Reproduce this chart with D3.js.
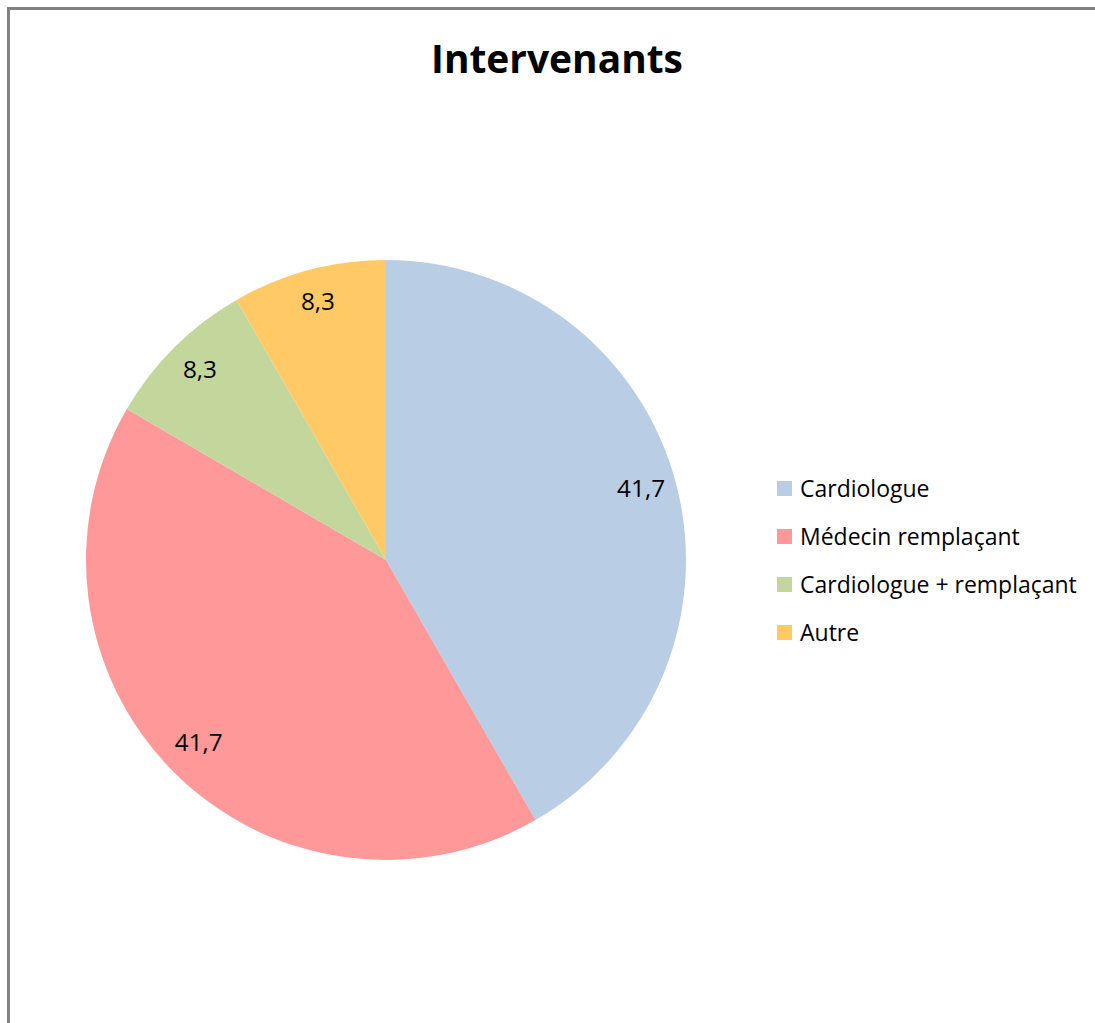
<!DOCTYPE html>
<html><head><meta charset="utf-8">
<script src="https://cdn.jsdelivr.net/npm/d3@7"></script>
<style>html,body{margin:0;padding:0;background:#fff;}svg{display:block;}</style>
</head><body>
<svg id="c" width="1095" height="1023"></svg>
<script>
const categories = ["Cardiologue", "Médecin remplaçant", "Cardiologue + remplaçant", "Autre"];
const values = [41.7, 41.7, 8.3, 8.3];
const labels = ["41,7", "41,7", "8,3", "8,3"];
const colors = ["#B9CDE5", "#FF9999", "#C3D69B", "#FFCA66"];
const title = "Intervenants";

const svg = d3.select("#c");
const font = "'Open Sans', sans-serif";
function fit(sel, target, base) {
  const w = sel.node().getComputedTextLength();
  sel.attr("font-size", base * target / w);
}
svg.append("path").attr("d","M8.5,1023 V8.5 H1095").attr("fill","none").attr("stroke","#808080").attr("stroke-width",3);

const t = svg.append("text").attr("x",557).attr("y",73).attr("text-anchor","middle")
  .attr("font-family",font).attr("font-weight","bold").attr("font-size",36).attr("fill","#000").text(title);
fit(t, 252, 36);

const cx = 386, cy = 560, R = 300;
const pie = d3.pie().sort(null).value(d=>d)(values);
const arc = d3.arc().innerRadius(0).outerRadius(R);
const labArc = d3.arc().innerRadius(264).outerRadius(264);
const g = svg.append("g").attr("transform",`translate(${cx},${cy})`);
g.selectAll("path").data(pie).join("path").attr("d",arc).attr("fill",(d,i)=>colors[i]);
const lt = g.selectAll("text").data(pie).join("text")
  .attr("transform",d=>`translate(${labArc.centroid(d)})`)
  .attr("text-anchor","middle").attr("dy","0.22em")
  .attr("font-family",font).attr("font-size",20).attr("fill","#000")
  .text((d,i)=>labels[i]);
fit(d3.select(lt.nodes()[0]), 48, 20);
lt.attr("font-size", d3.select(lt.nodes()[0]).attr("font-size"));

const leg = svg.append("g");
const y0 = 489, step = 48;
const lts = [];
categories.forEach((c,i)=>{
  const y = y0 + i*step;
  leg.append("rect").attr("x",777).attr("y",y-8).attr("width",15).attr("height",15).attr("fill",colors[i]);
  lts.push(leg.append("text").attr("x",800).attr("y",y).attr("dy","0.35em")
    .attr("font-family",font).attr("font-size",20).attr("fill","#000").text(c));
});
fit(lts[2], 277, 20);
const fs = lts[2].attr("font-size");
lts.forEach(s=>s.attr("font-size", fs));
</script>
</body></html>
